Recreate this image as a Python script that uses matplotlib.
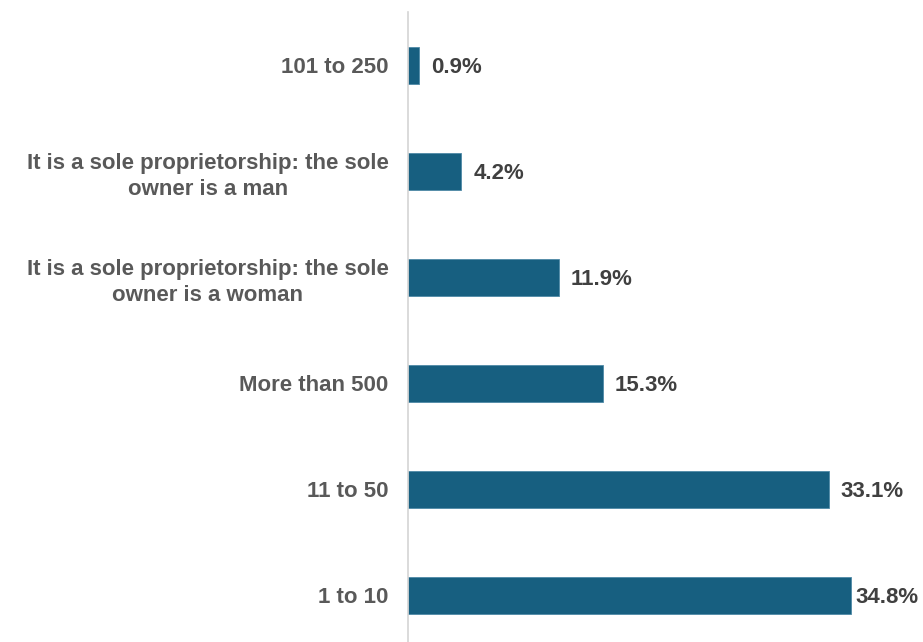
import matplotlib

matplotlib.use("Agg")
import matplotlib.pyplot as plt

categories = [
    "101 to 250",
    "It is a sole proprietorship: the sole\nowner is a man",
    "It is a sole proprietorship: the sole\nowner is a woman",
    "More than 500",
    "11 to 50",
    "1 to 10",
]
shares = [0.9, 4.2, 11.9, 15.3, 33.1, 34.8]

BAR = "#175f80"
TEXT = "#404040"
LABEL = "#595959"

plt.rcParams["font.family"] = ["Liberation Sans", "DejaVu Sans"]
plt.rcParams["font.weight"] = "bold"

fig = plt.figure(figsize=(9.23, 6.42), dpi=100)
ax = fig.add_axes([0.442, 0.0, 0.558, 0.981])

y = range(len(categories))
ax.barh(y, shares, height=0.35, color=BAR, edgecolor="#4f8aa6", linewidth=0.6)

for yi, v in zip(y, shares):
    pad = 3.5 if v > 34 else 8.5
    ax.annotate(f"{v:.1f}%", (v, yi), xytext=(pad, -1.5), textcoords="offset points",
                ha="left", va="center", fontsize=16, fontweight="bold", color=TEXT)

ax.set_xlim(0, 40.5)
ax.set_ylim(5.44, -0.5)
ax.set_yticks(list(y), categories, multialignment="center", linespacing=1.3)
ax.tick_params(axis="y", length=0, pad=14, labelsize=16, labelcolor=LABEL)
ax.set_xticks([])
for side in ("top", "right", "bottom"):
    ax.spines[side].set_visible(False)
ax.spines["left"].set_color("#d4d4d4")
ax.spines["left"].set_linewidth(1.2)

fig.savefig("out.png", dpi=100)
